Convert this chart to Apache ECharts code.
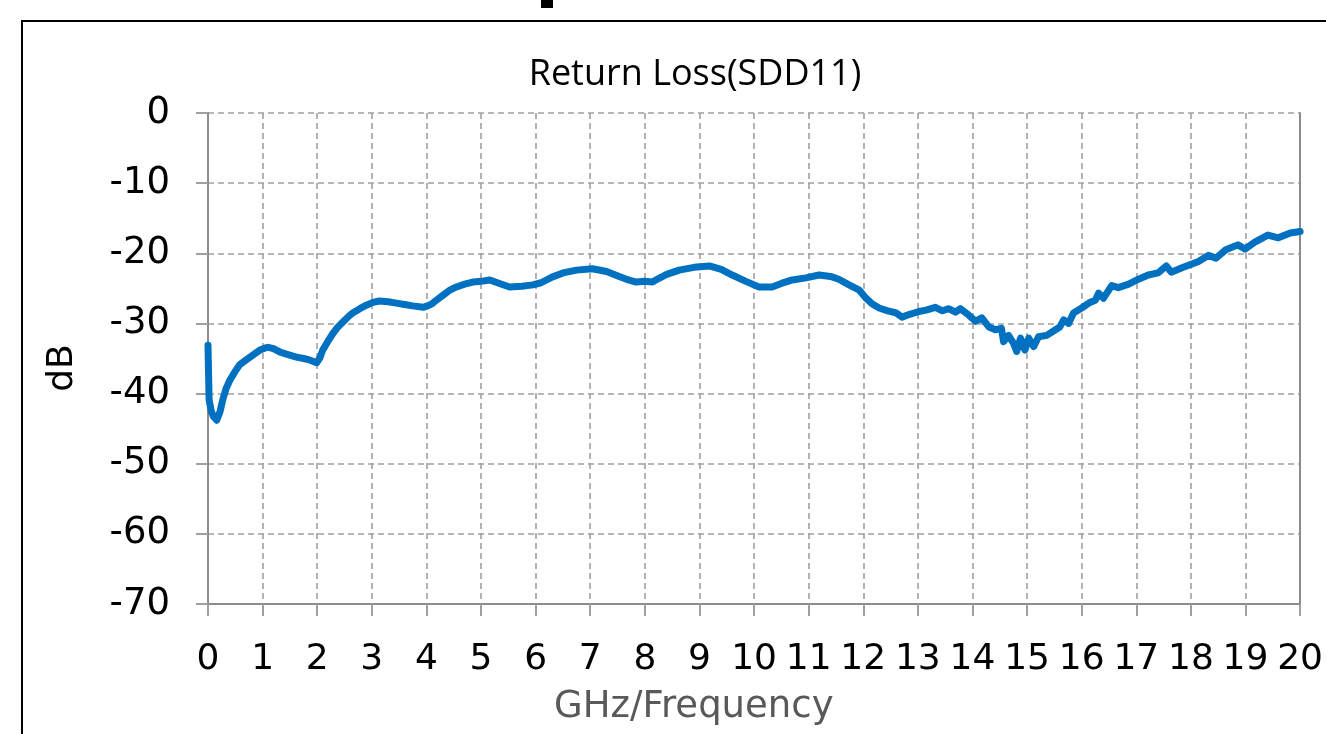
<!DOCTYPE html>
<html>
<head>
<meta charset="utf-8">
<title>Return Loss(SDD11)</title>
<script src="https://cdn.jsdelivr.net/npm/echarts@6/dist/echarts.min.js"></script>
<style>
  html, body { margin: 0; padding: 0; background: #fff; }
  #main { width: 1326px; height: 734px; }
</style>
</head>
<body>
<div id="main"></div>
<script>
// frequency (GHz) and SDD11 (dB)
var freq = [
  0.00, 0.02, 0.06, 0.10, 0.16, 0.22, 0.27, 0.33, 0.40, 0.50,
  0.58, 0.68, 0.77, 0.86, 0.95, 1.05, 1.10, 1.20, 1.32, 1.45,
  1.62, 1.75, 1.86, 1.99, 2.05, 2.10, 2.20, 2.29, 2.38, 2.47,
  2.56, 2.65, 2.78, 2.90, 3.02, 3.14, 3.30, 3.45, 3.60, 3.75,
  3.94, 4.02, 4.10, 4.20, 4.30, 4.42, 4.55, 4.70, 4.85, 5.00,
  5.16, 5.30, 5.52, 5.75, 5.95, 6.10, 6.30, 6.50, 6.75, 7.04,
  7.30, 7.53, 7.70, 7.84, 8.00, 8.14, 8.25, 8.40, 8.63, 8.90,
  9.18, 9.40, 9.60, 9.85, 10.09, 10.33, 10.50, 10.70, 10.95, 11.19,
  11.40, 11.55, 11.74, 11.92, 12.05, 12.16, 12.29, 12.45, 12.60, 12.71,
  12.85, 13.02, 13.15, 13.32, 13.45, 13.56, 13.69, 13.78, 13.93, 14.06,
  14.17, 14.30, 14.42, 14.53, 14.57, 14.66, 14.75, 14.81, 14.88, 14.96,
  15.03, 15.12, 15.21, 15.36, 15.52, 15.60, 15.67, 15.76, 15.85, 16.00,
  16.13, 16.25, 16.31, 16.40, 16.55, 16.67, 16.86, 17.04, 17.22, 17.40,
  17.55, 17.64, 17.86, 18.13, 18.32, 18.46, 18.64, 18.86, 18.99, 19.17,
  19.41, 19.60, 19.82, 20.00
];
var sdd11 = [
  -33.1, -40.9, -42.5, -43.3, -43.8, -42.6, -40.9, -39.3, -38.1, -36.8,
  -35.9, -35.3, -34.8, -34.3, -33.8, -33.5, -33.4, -33.6, -34.1, -34.4,
  -34.8, -35.0, -35.2, -35.6, -34.9, -33.8, -32.5, -31.4, -30.5, -29.8,
  -29.1, -28.5, -27.9, -27.4, -27.0, -26.8, -26.9, -27.1, -27.3, -27.5,
  -27.7, -27.5, -27.2, -26.6, -26.0, -25.3, -24.8, -24.4, -24.1, -24.0,
  -23.8, -24.2, -24.8, -24.7, -24.5, -24.2, -23.4, -22.8, -22.4, -22.2,
  -22.6, -23.3, -23.8, -24.1, -24.0, -24.1, -23.6, -23.0, -22.4, -22.0,
  -21.8, -22.3, -23.1, -24.0, -24.8, -24.8, -24.3, -23.8, -23.5, -23.1,
  -23.3, -23.7, -24.5, -25.2, -26.4, -27.2, -27.8, -28.2, -28.5, -29.1,
  -28.7, -28.3, -28.1, -27.7, -28.2, -27.9, -28.4, -27.9, -28.8, -29.7,
  -29.2, -30.5, -30.9, -30.7, -32.6, -31.7, -32.8, -34.0, -32.1, -33.8,
  -32.1, -33.3, -31.9, -31.7, -30.9, -30.5, -29.5, -30.0, -28.5, -27.8,
  -27.1, -26.7, -25.7, -26.4, -24.6, -24.9, -24.4, -23.7, -23.1, -22.8,
  -21.8, -22.7, -22.0, -21.2, -20.3, -20.7, -19.5, -18.8, -19.4, -18.4,
  -17.4, -17.8, -17.1, -16.9
];
var chartTitle = 'Return Loss(SDD11)';
var xName = 'GHz/Frequency';
var yName = 'dB';

var myChart = echarts.init(document.getElementById('main'));

var points = [];
for (var i = 0; i < freq.length; i++) {
  points.push([freq[i], sdd11[i]]);
}

var gridLine = { show: true, lineStyle: { color: '#a0a0a0', width: 1.6, type: [6, 4] } };
var axisGray = '#8c8c8c';

var option = {
  backgroundColor: '#fff',
  animation: false,
  title: {
    text: chartTitle,
    left: 690,
    top: 52,
    textAlign: 'center',
    textStyle: { fontFamily: 'Open Sans', fontSize: 36, fontWeight: 'normal', color: '#000' }
  },
  grid: { left: 208, right: 24, top: 113, bottom: 130 },
  xAxis: {
    type: 'value',
    min: 0,
    max: 20,
    interval: 1,
    axisLine: { show: true, onZero: false, lineStyle: { color: axisGray, width: 2 } },
    axisTick: { show: true, length: 12, lineStyle: { color: '#a0a0a0', width: 2 } },
    axisLabel: { margin: 38, fontFamily: 'DejaVu Sans', fontSize: 36, color: '#000' },
    splitLine: gridLine
  },
  yAxis: [{
    type: 'value',
    min: -70,
    max: 0,
    interval: 10,
    axisLine: { show: true, lineStyle: { color: axisGray, width: 2 } },
    axisTick: { show: true, length: 12, lineStyle: { color: '#a0a0a0', width: 2 } },
    axisLabel: { margin: 38, fontFamily: 'DejaVu Sans', fontSize: 37, color: '#000' },
    splitLine: gridLine
  }, {
    type: 'value',
    position: 'right',
    min: -70,
    max: 0,
    interval: 10,
    axisLine: { show: true, lineStyle: { color: axisGray, width: 2 } },
    axisTick: { show: false },
    axisLabel: { show: false },
    splitLine: { show: false }
  }],
  graphic: [
    // chart frame
    { type: 'rect', shape: { x: 22, y: 21, width: 1340, height: 760 },
      style: { fill: null, stroke: '#000', lineWidth: 2 }, silent: true },
    // cut-off mark above the frame
    { type: 'rect', shape: { x: 541, y: 0, width: 12, height: 8 },
      style: { fill: '#000' }, silent: true },
    { type: 'text', left: 554, top: 689,
      style: { text: xName, fontFamily: 'DejaVu Sans', fontSize: 37, fill: '#595959' } },
    { type: 'text', x: 63, y: 368, rotation: Math.PI / 2,
      style: { text: yName, fontFamily: 'DejaVu Sans', fontSize: 36, fill: '#000',
               align: 'center', verticalAlign: 'middle' } }
  ],
  series: [{
    name: 'SDD11',
    type: 'line',
    data: points,
    showSymbol: false,
    smooth: false,
    lineStyle: { color: '#0070c0', width: 7, join: 'round', cap: 'round' },
    itemStyle: { color: '#0070c0' }
  }]
};

myChart.setOption(option);
</script>
</body>
</html>
